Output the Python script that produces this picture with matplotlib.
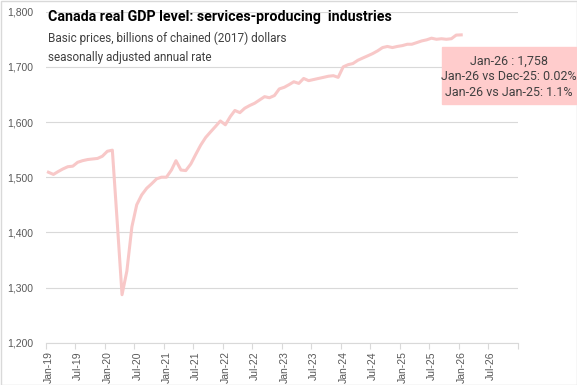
import numpy as np
import pandas as pd
import matplotlib
matplotlib.use('Agg')
import matplotlib.pyplot as plt
import matplotlib.dates as mdates
from matplotlib import font_manager
from matplotlib.patches import Rectangle
from matplotlib.transforms import ScaledTranslation

# monthly real GDP, services-producing industries (billions of chained 2017 $)
months = pd.date_range('2019-01-01', '2026-01-01', freq='MS')
gdp = [
    1509, 1505, 1510, 1515, 1519, 1520, 1527, 1530, 1532, 1533, 1534, 1538,
    1547, 1549, 1424, 1287, 1330, 1410, 1450, 1468, 1480, 1488, 1497, 1500,
    1500, 1513, 1530, 1513, 1512, 1524, 1541, 1558, 1572, 1582, 1592, 1602,
    1595, 1610, 1621, 1617, 1625, 1630, 1634, 1640, 1646, 1644, 1648, 1660,
    1663, 1668, 1673, 1670, 1679, 1675, 1677, 1679, 1681, 1683, 1684, 1681,
    1700, 1704, 1706, 1712, 1716, 1720, 1724, 1729, 1735, 1737, 1735, 1737,
    1738.5, 1741, 1741, 1744, 1747, 1749, 1752, 1750, 1751, 1750, 1751, 1757.6,
    1758,
]
y_ticks = [1200, 1300, 1400, 1500, 1600, 1700, 1800]
title = 'Canada real GDP level: services-producing  industries'
subtitle = 'Basic prices, billions of chained (2017) dollars\nseasonally adjusted annual rate'
box_lines = ['Jan-26 : 1,758', 'Jan-26 vs Dec-25: 0.02%', 'Jan-26 vs Jan-25: 1.1%']

names = {f.name for f in font_manager.fontManager.ttflist}
narrow = 'Liberation Sans Narrow' if 'Liberation Sans Narrow' in names else 'Roboto'
plt.rcParams['font.family'] = [narrow, 'DejaVu Sans']

fig = plt.figure(figsize=(5.77, 3.85), dpi=100)
ax = fig.add_axes([46 / 577, 1 - 342.7 / 385, (517.7 - 46) / 577, (342.7 - 11.7) / 385])

# Excel puts each monthly point in the middle of its month
x = months + pd.Timedelta(days=15)
ax.plot(x, gdp, color='#F8C8C8', lw=2.2, solid_joinstyle='round', zorder=3)

ax.set_ylim(1200, 1800)
ax.set_yticks(y_ticks)
ax.set_yticklabels([f'{v:,}' for v in y_ticks])
ax.grid(axis='y', color='#D9D9D9', lw=0.8)
ax.set_axisbelow(True)

ax.set_xlim(pd.Timestamp('2019-01-01'), pd.Timestamp('2027-01-01'))
xt = pd.date_range('2019-01-01', '2027-01-01', freq='6MS')
ax.set_xticks(xt)
ax.set_xticklabels([d.strftime('%b-%y') for d in xt[:-1]] + [''], rotation=90)

for s in ['top', 'right', 'left']:
    ax.spines[s].set_visible(False)
ax.spines['bottom'].set_color('#D9D9D9')
ax.tick_params(axis='y', length=0, pad=9, labelsize=7.5, labelcolor='#595959')
ax.tick_params(axis='x', length=4, width=0.8, color='#D9D9D9', pad=2,
               labelsize=7.5, labelcolor='#595959')
for lbl in ax.get_yticklabels() + ax.get_xticklabels():
    lbl.set_fontfamily(['Liberation Sans', 'DejaVu Sans'])
for lbl in ax.get_xticklabels():
    lbl.set_transform(lbl.get_transform() + ScaledTranslation(3 / 100, 0, fig.dpi_scale_trans))

fig.text(48 / 577, 1 - 17 / 385, title, fontsize=10.3, fontweight='bold',
         color='#000000', va='center', ha='left')
fig.text(48 / 577, 1 - 32 / 385, subtitle, fontsize=8.5, color='#404040',
         va='top', ha='left', linespacing=1.55)

fig.patches.append(Rectangle((442 / 577, 1 - 104 / 385), 134 / 577, 57 / 385,
                             transform=fig.transFigure, color='#FFCCCC', zorder=5))
for i, line in enumerate(box_lines):
    fig.text(509 / 577, 1 - (61 + 15.8 * i) / 385, line, fontsize=9, color='#404040',
             ha='center', va='center', zorder=6)

fig.patches.append(Rectangle((0.5 / 577, 0.5 / 385), 576 / 577, 384 / 385, fill=False,
                             edgecolor='#D9D9D9', lw=1, transform=fig.transFigure))

fig.savefig('out.png', dpi=100)
